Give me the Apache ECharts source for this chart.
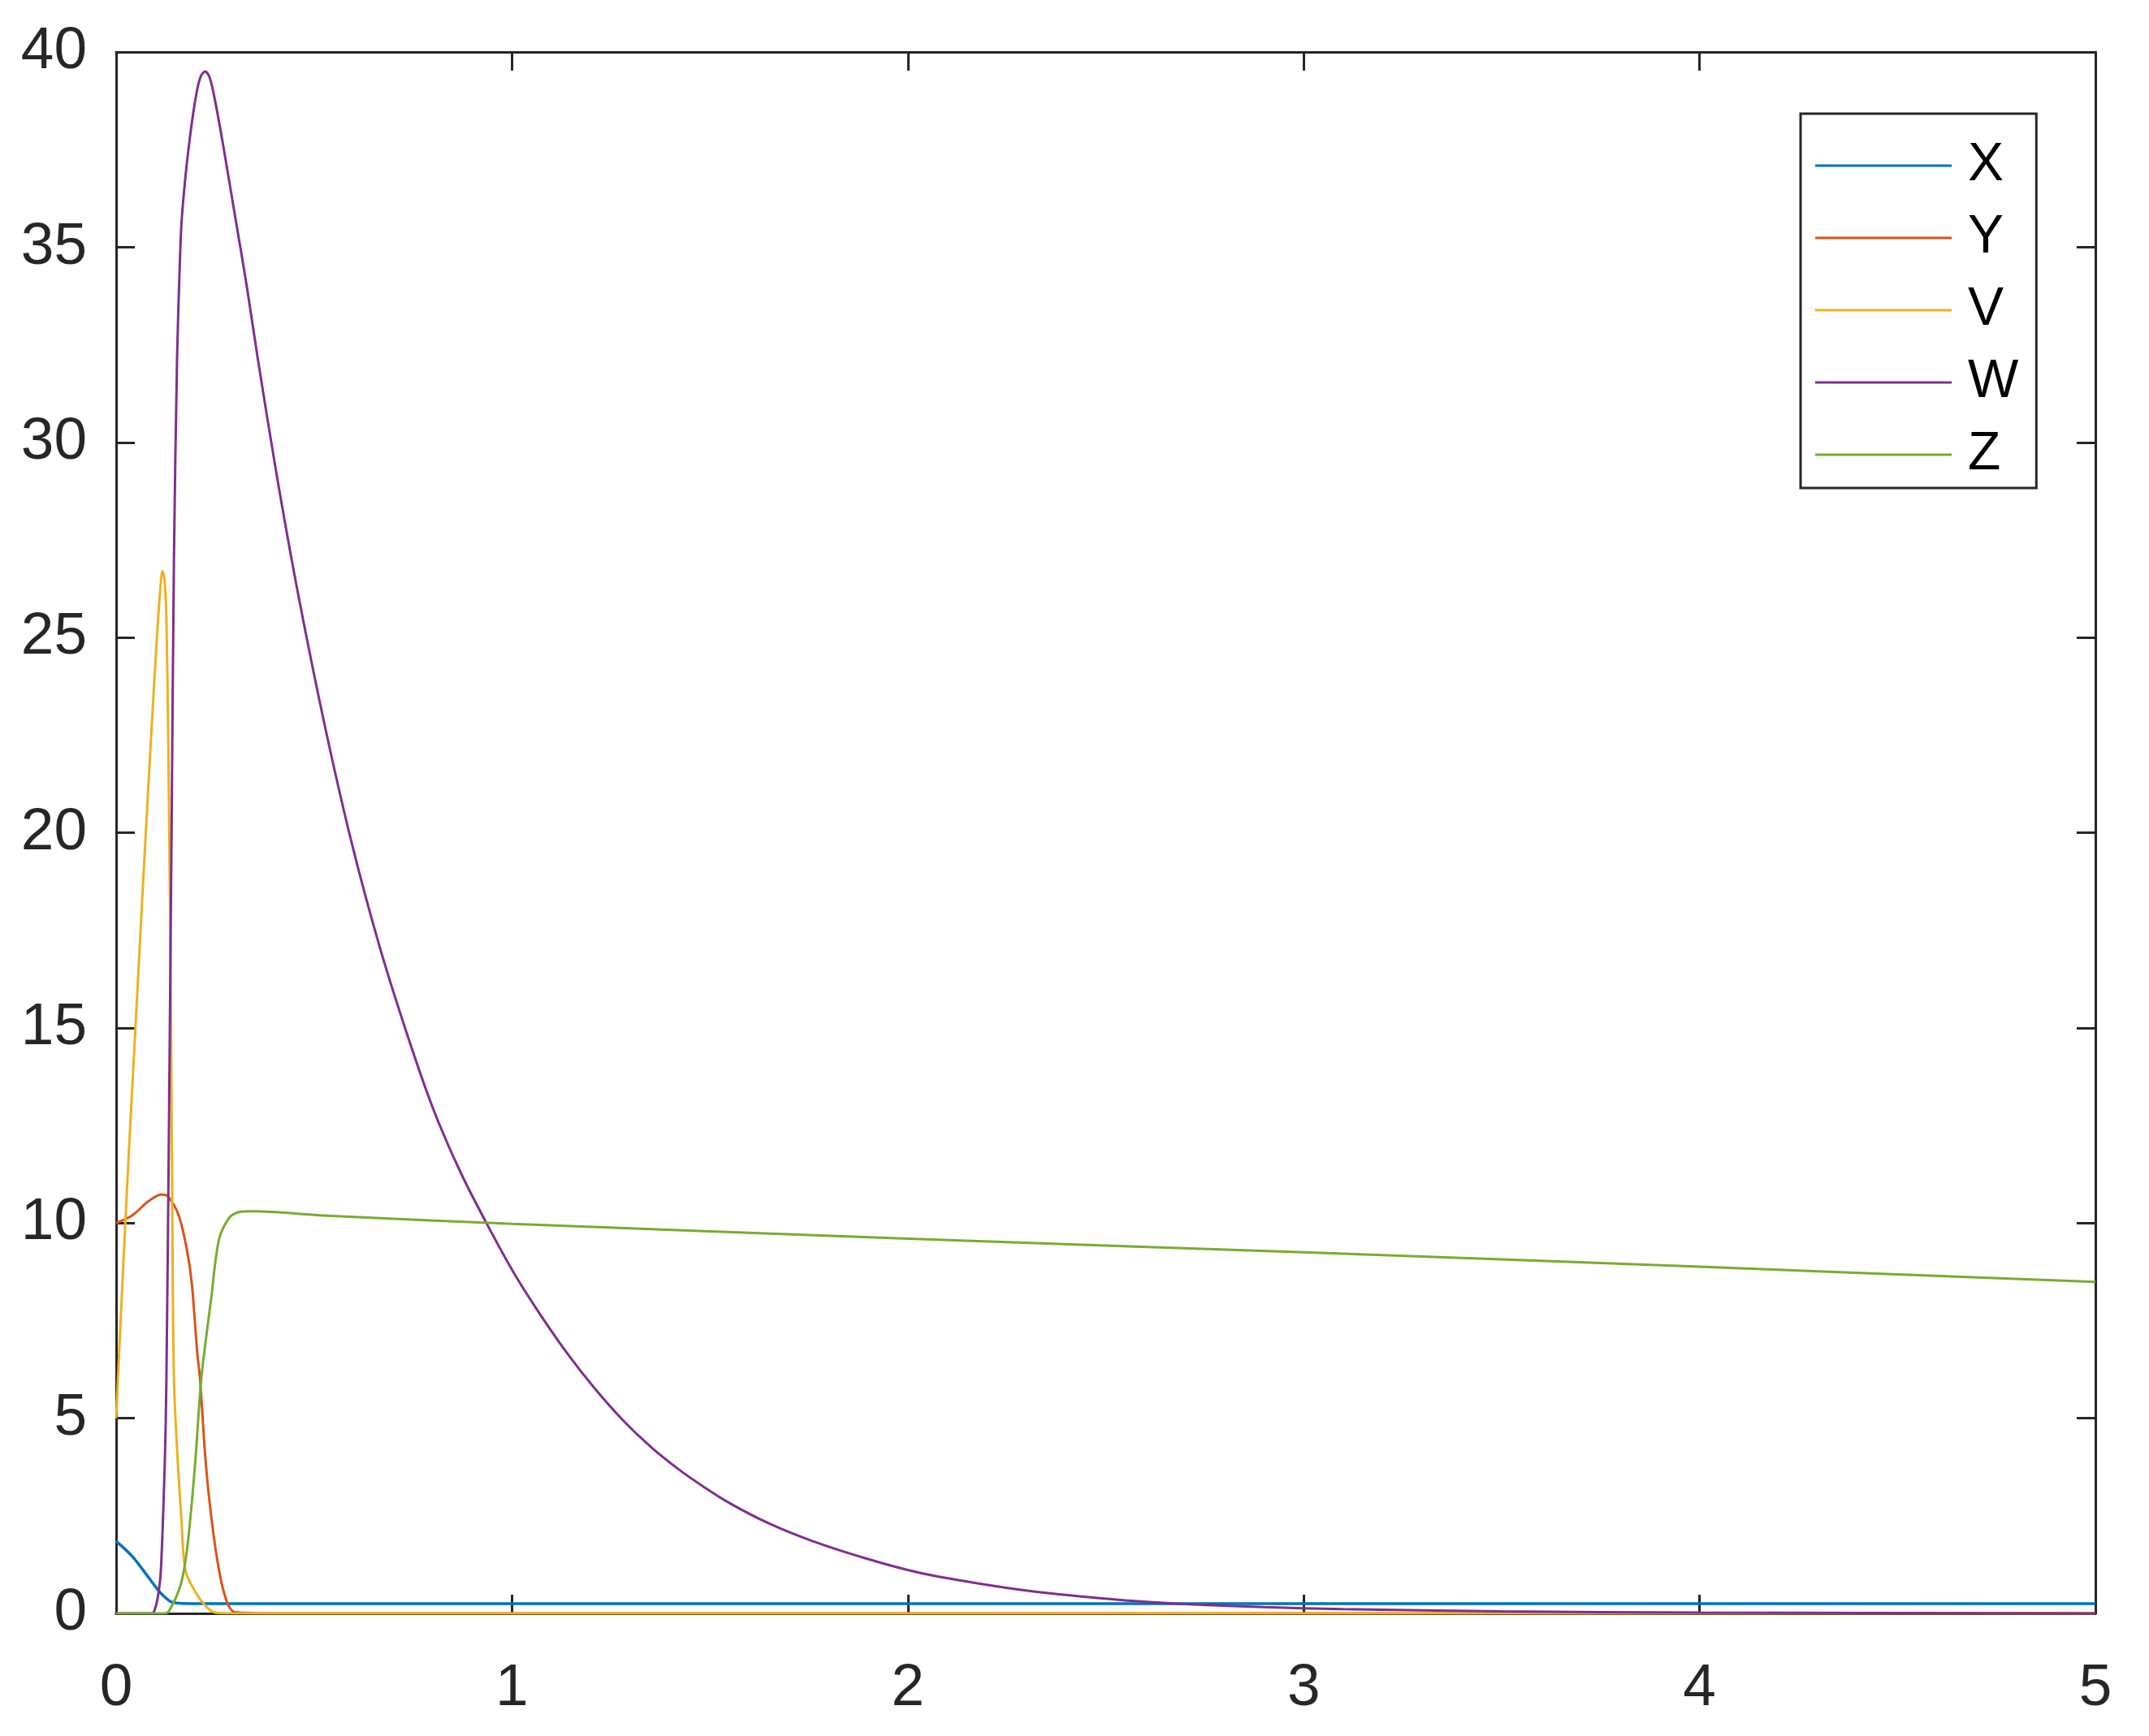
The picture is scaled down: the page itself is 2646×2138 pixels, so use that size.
<!DOCTYPE html>
<html><head><meta charset="utf-8">
<script src="https://cdn.jsdelivr.net/npm/echarts@6/dist/echarts.min.js"></script>
<style>html,body{margin:0;padding:0;background:#fff}#c{width:2646px;height:2138px}</style>
</head><body><div id="c"></div>
<script>
// Series names and colours
const seriesNames = ['X', 'Y', 'V', 'W', 'Z'];
const seriesColors = ['#0072BD', '#D95319', '#EDB120', '#7E2F8E', '#77AC30'];

// X (blue)
const tX = [0, 0.041, 0.082, 0.109, 0.125, 0.138, 0.16, 0.2, 1, 2, 3, 4, 5];
const vX = [1.85, 1.46, 0.92, 0.56, 0.4, 0.3, 0.26, 0.25, 0.25, 0.25, 0.25, 0.25, 0.25];

// Y (orange)
const tY = [0, 0.041, 0.082, 0.113, 0.13, 0.158, 0.179, 0.191, 0.205, 0.212, 0.226, 0.24, 0.26, 0.28, 0.3, 0.4, 5];
const vY = [10.0, 10.2, 10.56, 10.73, 10.69, 10.2, 9.3, 8.47, 6.67, 6.0, 3.9, 2.5, 1.1, 0.29, 0.03, 0, 0];

// V (yellow)
const tV = [0, 0.01, 0.027, 0.045, 0.055, 0.068, 0.088, 0.103, 0.112, 0.117, 0.122, 0.127, 0.132, 0.138, 0.142, 0.146, 0.155, 0.165, 0.175, 0.2, 0.225, 0.25, 0.3, 5];
const vV = [5, 7.2, 10.8, 14.3, 16.2, 18.7, 22.4, 25.0, 26.3, 26.7, 26.5, 25.5, 22, 16, 10, 6, 4, 2.4, 1.1, 0.55, 0.2, 0.02, 0, 0];

// W (purple)
const tW = [0, 0.09, 0.096, 0.105, 0.113, 0.123, 0.127, 0.133, 0.14, 0.146, 0.154, 0.16, 0.165, 0.175, 0.185, 0.195, 0.206, 0.215, 0.225, 0.236, 0.247, 0.268, 0.302, 0.33, 0.357, 0.405, 0.46, 0.528, 0.596, 0.665, 0.733, 0.80, 0.87, 0.938, 1.006, 1.075, 1.144, 1.21, 1.28, 1.35, 1.417, 1.486, 1.554, 1.65, 1.76, 1.897, 2.03, 2.17, 2.31, 2.44, 2.58, 2.72, 2.9, 3.1, 3.5, 4, 5];
const vW = [0, 0, 0.05, 0.4, 1.1, 3.9, 6, 12, 20, 27, 32.2, 34.3, 35.6, 36.8, 37.7, 38.45, 39.1, 39.4, 39.5, 39.35, 38.9, 37.75, 35.7, 34.0, 32.2, 29.2, 26.1, 22.7, 19.7, 17.1, 14.9, 12.95, 11.3, 9.95, 8.7, 7.6, 6.6, 5.75, 4.95, 4.27, 3.72, 3.23, 2.8, 2.3, 1.85, 1.4, 1.04, 0.78, 0.57, 0.43, 0.31, 0.23, 0.16, 0.11, 0.05, 0.02, 0];

// Z (green)
const tZ = [0, 0.12, 0.133, 0.164, 0.181, 0.2, 0.215, 0.24, 0.26, 0.287, 0.315, 0.35, 0.513, 1, 2, 3, 4, 5];
const vZ = [0, 0, 0.05, 0.77, 1.8, 3.9, 6.0, 8.06, 9.59, 10.15, 10.29, 10.3, 10.2, 9.98, 9.6, 9.25, 8.88, 8.49];

// Axis ranges and ticks
const xMin = 0, xMax = 5, xStep = 1;
const yMin = 0, yMax = 40, yStep = 5;

const pairs = (t, v) => t.map((x, i) => [x, v[i]]);
const allData = [pairs(tX, vX), pairs(tY, vY), pairs(tV, vV), pairs(tW, vW), pairs(tZ, vZ)];
const lineWidths = [3.5, 3, 3, 3, 3];

const FONT = '"Liberation Sans", Arial, Helvetica, sans-serif';
const AX = '#262626';

const chart = echarts.init(document.getElementById('c'), null, {renderer: 'canvas'});

const baseAxis = {
  type: 'value',
  axisLine: {show: true, onZero: false, lineStyle: {color: AX, width: 3}},
  axisTick: {show: true, inside: true, length: 23, lineStyle: {color: AX, width: 3}},
  splitLine: {show: false}
};

chart.setOption({
  animation: false,
  backgroundColor: '#ffffff',
  grid: {left: 143, right: 66, top: 64, bottom: 151, containLabel: false},
  xAxis: [
    Object.assign({}, baseAxis, {
      min: xMin, max: xMax, interval: xStep, position: 'bottom',
      axisLabel: {show: true, fontSize: 73, color: AX, fontFamily: FONT, margin: 56}
    }),
    Object.assign({}, baseAxis, {
      min: xMin, max: xMax, interval: xStep, position: 'top',
      axisLabel: {show: false}
    })
  ],
  yAxis: [
    Object.assign({}, baseAxis, {
      min: yMin, max: yMax, interval: yStep, position: 'left',
      axisLabel: {show: true, fontSize: 73, color: AX, fontFamily: FONT, margin: 36}
    }),
    Object.assign({}, baseAxis, {
      min: yMin, max: yMax, interval: yStep, position: 'right',
      axisLabel: {show: false}
    })
  ],
  legend: {
    show: true,
    orient: 'vertical',
    left: 2217, top: 140,
    itemWidth: 168, itemHeight: 20, itemGap: 23,
    padding: [31, 22, 8, 18],
    borderColor: AX, borderWidth: 3,
    backgroundColor: '#ffffff',
    icon: 'path://M0,0 L168,0 L168,3 L0,3 Z',
    textStyle: {fontSize: 66, color: '#000', fontFamily: FONT, padding: [0, 0, 0, 15]},
    data: seriesNames
  },
  series: seriesNames.map((n, i) => ({
    name: n,
    type: 'line',
    xAxisIndex: 0, yAxisIndex: 0,
    data: allData[i],
    symbol: 'none',
    smooth: 0.3,
    clip: true,
    lineStyle: {color: seriesColors[i], width: lineWidths[i]},
    itemStyle: {color: seriesColors[i]},
    z: 2 + i
  }))
});
</script>
</body></html>
